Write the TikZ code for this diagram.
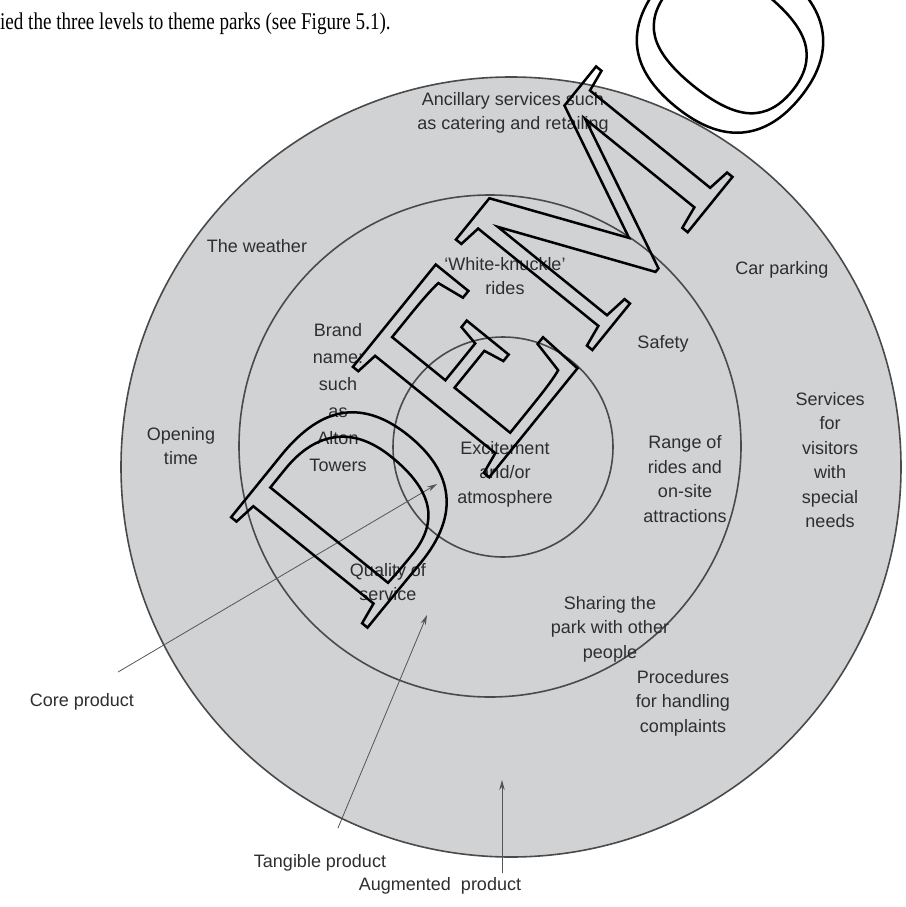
\documentclass[tikz,border=0pt]{standalone}
\usepackage{fontspec}
\setmainfont{Liberation Sans}
\newfontfamily\wmfont{Liberation Serif}
\newfontfamily\bodyserif{Liberation Serif}
\usetikzlibrary{arrows.meta}
\definecolor{ringfill}{HTML}{D1D2D4}
\definecolor{ringline}{HTML}{4A4A4A}
\definecolor{txt}{HTML}{2E2E2E}
\definecolor{arr}{HTML}{555555}
\begin{document}
\begin{tikzpicture}[x=1pt,y=-1pt,
  ring/.style={draw=ringline,line width=1.6pt,fill=ringfill},
  lbl/.style={text=txt,align=center,font=\fontsize{18}{24.5}\selectfont,inner sep=0pt},
  ptr/.style={draw=arr,line width=0.8pt,-{Stealth[length=10pt,width=5.5pt]}}
]
\useasboundingbox (0,0) rectangle (905,907);
\fill[white] (0,0) rectangle (905,907);
\node[anchor=base west,inner sep=0pt,text=black,xscale=0.795,font=\bodyserif\fontsize{24}{26}\selectfont] (intro) at (0,30) {ied the three levels to theme parks (see Figure 5.1).};
\draw[ring] (511,467) circle[radius=390];
\draw[ring] (490,446) circle[radius=251];
\draw[ring] (503,447) circle[radius=110];
% labels
\node[lbl] (ancillary) at (513,113) {Ancillary services such\\as catering and retailing};
\node[lbl] (weather) at (257,246) {The weather};
\node[lbl] (white) at (505,276) {`White-knuckle'\\rides};
\node[lbl] (car) at (782,270) {Car parking};
\node[lbl,font=\fontsize{18}{27}\selectfont] (brand) at (338,398) {Brand\\name:\\such\\as\\Alton\\Towers};
\node[lbl] (safety) at (663,344) {Safety};
\node[lbl] (services) at (830,460) {Services\\for\\visitors\\with\\special\\needs};
\node[lbl] (opening) at (181,446) {Opening\\time};
\node[lbl] (excite) at (505,474) {Excitement\\and/or\\atmosphere};
\node[lbl] (range) at (685,479) {Range of\\rides and\\on-site\\attractions};
\node[lbl] (quality) at (388,582) {Quality of\\service};
\node[lbl] (sharing) at (610,629) {Sharing the\\park with other\\people};
\node[lbl] (proc) at (683,703) {Procedures\\for handling\\complaints};
\node[lbl] (core) at (82,702) {Core product};
\node[lbl] (tangible) at (320,863) {Tangible product};
\node[lbl] (augmented) at (440,886) {Augmented\ \ product};
% pointers
\coordinate (coreA) at (118,672);
\coordinate (coreB) at (437,484);
\coordinate (tanA) at (338,828);
\coordinate (tanB) at (427,615);
\coordinate (augA) at (502,873);
\coordinate (augB) at (502,780);
\draw[ptr] (coreA) -- (coreB);
\draw[ptr] (tanA) -- (tanB);
\draw[ptr] (augA) -- (augB);
% watermark
\node[rotate=51,inner sep=0pt,font=\wmfont\fontsize{268}{268}\selectfont] (demo) at (543,272)
  {\special{pdf:literal direct 1 Tr 2.5 w}DEMO\special{pdf:literal direct 0 Tr}};
\end{tikzpicture}
\end{document}
